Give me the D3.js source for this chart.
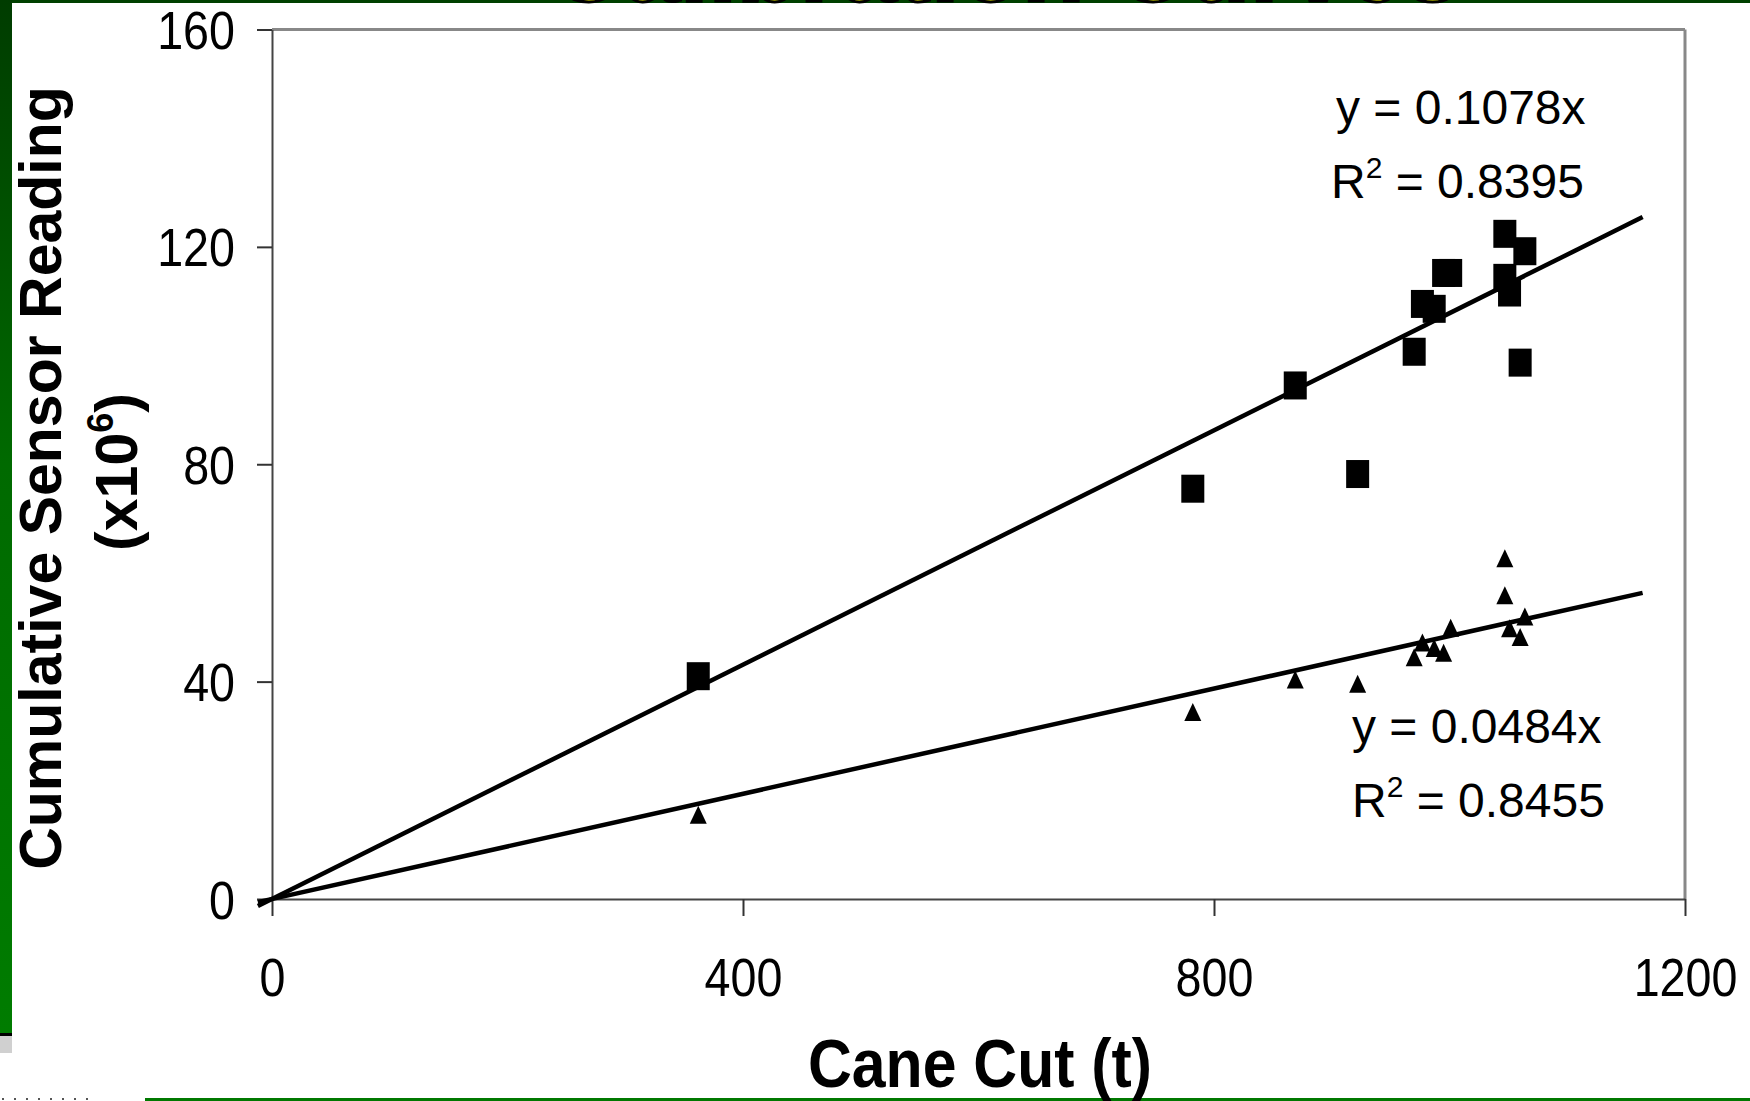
<!DOCTYPE html>
<html>
<head>
<meta charset="utf-8">
<script src="https://cdn.jsdelivr.net/npm/d3@7"></script>
<style>
  body { margin: 0; background: #fff; }
  svg { display: block; font-family: "Liberation Sans", Arial, sans-serif; }
</style>
</head>
<body>
<svg width="1750" height="1101"></svg>
<script>
// cane cut (t) and the two cumulative sensor readings (x10^6)
const caneCut = [362, 782, 869, 922, 970, 977, 987, 995, 1001, 1047, 1047, 1051, 1060, 1064]
const sensorSquares = [41.0, 75.5, 94.5, 78.2, 100.7, 109.5, 108.6, 115.2, 115.2, 122.4, 114.3, 111.6, 98.7, 119.2]
const sensorTriangles = [15.5, 34.4, 40.4, 39.6, 44.5, 47.2, 46.2, 45.3, 49.9, 62.7, 55.9, 49.8, 48.2, 52.0]
const slopes = [0.1078, 0.0484]
const eqLabels = ['y = 0.1078x', 'y = 0.0484x']
const r2Labels = ['0.8395', '0.8455']
const xTicks = [0, 400, 800, 1200]
const yTicks = [0, 40, 80, 120, 160]

const svg = d3.select('svg')

const x = d3.scaleLinear().domain([0, 1200]).range([272, 1685])
const y = d3.scaleLinear().domain([0, 160]).range([899, 29.5])

// slide decoration: green frame bits + clipped title
const grad = svg.append('defs').append('linearGradient')
  .attr('id', 'side').attr('x1', 0).attr('y1', 0).attr('x2', 0).attr('y2', 1)
grad.append('stop').attr('offset', 0).attr('stop-color', '#003c00')
grad.append('stop').attr('offset', 0.45).attr('stop-color', '#006a00')
grad.append('stop').attr('offset', 1).attr('stop-color', '#007c00')

svg.append('rect').attr('x', 0).attr('y', 0).attr('width', 1750).attr('height', 3).attr('fill', '#004000')
svg.append('rect').attr('x', 0).attr('y', 0).attr('width', 12).attr('height', 1033).attr('fill', 'url(#side)')
svg.append('rect').attr('x', 0).attr('y', 1033).attr('width', 12).attr('height', 3).attr('fill', '#000')
svg.append('rect').attr('x', 0).attr('y', 1036).attr('width', 12).attr('height', 17).attr('fill', '#d0d0d0')
svg.append('line').attr('x1', 2).attr('x2', 90).attr('y1', 1099).attr('y2', 1099)
  .attr('stroke', '#555').attr('stroke-width', 2).attr('stroke-dasharray', '2,10')
svg.append('rect').attr('x', 145).attr('y', 1098).attr('width', 1605).attr('height', 3).attr('fill', '#007800')

// title sits mostly above the visible area, only its bottom edge shows
svg.append('text')
  .attr('transform', 'translate(1005,1) scale(0.9,1)')
  .attr('text-anchor', 'middle')
  .style('font-size', '114px').style('font-weight', 'bold')
  .attr('fill', '#ffff00').attr('stroke', '#000').attr('stroke-width', 3)
  .text('Calibration Curves')

// frame: grey top/right, dark axes left/bottom
svg.append('line').attr('x1', x(0)).attr('x2', x(1200)).attr('y1', y(160)).attr('y2', y(160))
  .attr('stroke', '#888').attr('stroke-width', 3)
svg.append('line').attr('x1', x(1200)).attr('x2', x(1200)).attr('y1', y(160)).attr('y2', y(0))
  .attr('stroke', '#888').attr('stroke-width', 3)

const yAxis = svg.append('g')
  .attr('transform', `translate(${x(0)},0)`)
  .call(d3.axisLeft(y).tickValues(yTicks).tickSize(15).tickSizeOuter(0).tickFormat(d3.format('d')))
yAxis.select('.domain').attr('stroke', '#444').attr('stroke-width', 2)
yAxis.selectAll('.tick line').attr('stroke', '#333').attr('stroke-width', 2)
yAxis.selectAll('.tick text')
  .attr('x', null).attr('dy', '0.36em')
  .attr('transform', 'translate(-37,0) scale(0.88,1)')
  .attr('fill', '#000')
  .style('font-size', '53px').style('font-family', '"Liberation Sans", Arial, sans-serif')

const xAxis = svg.append('g')
  .attr('transform', `translate(0,${y(0)})`)
  .call(d3.axisBottom(x).tickValues(xTicks).tickSize(17).tickSizeOuter(0).tickFormat(d3.format('d')))
xAxis.select('.domain').attr('stroke', '#444').attr('stroke-width', 2)
xAxis.selectAll('.tick line').attr('stroke', '#333').attr('stroke-width', 2)
xAxis.selectAll('.tick text')
  .attr('y', null).attr('dy', null)
  .attr('transform', 'translate(0,97) scale(0.88,1)')
  .attr('fill', '#000')
  .style('font-size', '53px').style('font-family', '"Liberation Sans", Arial, sans-serif')

// trend lines through origin
const line = d3.line().x(d => x(d[0])).y(d => y(d[1]))
svg.selectAll('path.trend')
  .data(slopes)
  .join('path')
  .attr('class', 'trend')
  .attr('d', s => line([[-12, -12 * s], [1164, 1164 * s]]))
  .attr('fill', 'none')
  .attr('stroke', '#000')
  .attr('stroke-width', 4.5)

const pts = caneCut.map((c, i) => ({ c: c, a: sensorSquares[i], b: sensorTriangles[i] }))

svg.append('g').selectAll('rect')
  .data(pts)
  .join('rect')
  .attr('x', d => x(d.c) - 11.5)
  .attr('y', d => y(d.a) - 14)
  .attr('width', 23)
  .attr('height', 28)
  .attr('fill', '#000')

svg.append('g').selectAll('path')
  .data(pts)
  .join('path')
  .attr('transform', d => `translate(${x(d.c)},${y(d.b)})`)
  .attr('d', 'M0,-9L8.5,9L-8.5,9Z')
  .attr('fill', '#000')

// regression labels
const eqPos = [[1336, 124, 1331, 198], [1352, 743, 1352, 817]]
eqPos.forEach((p, i) => {
  svg.append('text').attr('x', p[0]).attr('y', p[1])
    .style('font-size', '48px').attr('fill', '#000')
    .text(eqLabels[i])
  const r = svg.append('text').attr('x', p[2]).attr('y', p[3])
    .style('font-size', '48px').attr('fill', '#000')
  r.append('tspan').text('R')
  r.append('tspan').attr('dy', -20).style('font-size', '30px').text('2')
  r.append('tspan').attr('dy', 20).text(' = ' + r2Labels[i])
})

// axis titles
svg.append('text')
  .attr('transform', 'translate(980,1087) scale(0.88,1)')
  .attr('text-anchor', 'middle')
  .style('font-size', '69px').style('font-weight', 'bold')
  .attr('fill', '#000')
  .text('Cane Cut (t)')

svg.append('text')
  .attr('transform', 'translate(61,478) rotate(-90)')
  .attr('text-anchor', 'middle')
  .style('font-size', '59px').style('font-weight', 'bold')
  .attr('fill', '#000')
  .text('Cumulative Sensor Reading')

const unit = svg.append('text')
  .attr('transform', 'translate(137,472) rotate(-90)')
  .attr('text-anchor', 'middle')
  .style('font-size', '59px').style('font-weight', 'bold')
  .attr('fill', '#000')
unit.append('tspan').text('(x10')
unit.append('tspan').attr('dy', -24).style('font-size', '36px').text('6')
unit.append('tspan').attr('dy', 24).text(')')
</script>
</body>
</html>
